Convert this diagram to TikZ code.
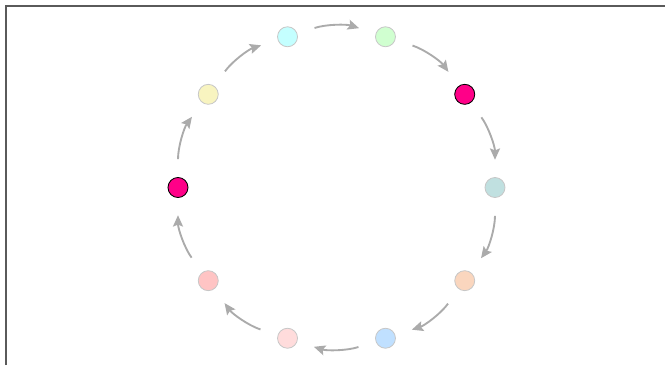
\documentclass[tikz,border=0pt]{standalone}
\usetikzlibrary{arrows.meta}

\definecolor{hot}{HTML}{FF0088}
\definecolor{butter}{HTML}{F8F4C0}
\definecolor{ice}{HTML}{C4FFFF}
\definecolor{mint}{HTML}{D0FFD0}
\definecolor{sea}{HTML}{C0E0E0}
\definecolor{peach}{HTML}{FAD6BE}
\definecolor{sky}{HTML}{C0E0FF}
\definecolor{blush}{HTML}{FFDCDC}
\definecolor{salmon}{HTML}{FFC4C4}
\definecolor{flowgray}{HTML}{ABABAB}
\definecolor{framegray}{HTML}{5A5A5A}

\begin{document}
\begin{tikzpicture}[
    x=0.75pt, y=0.75pt,
    ball/.style={circle, draw=black!22, line width=0.6pt, inner sep=0pt, minimum size=15pt},
    hotball/.style={ball, draw=black, fill=hot},
    flow/.style={draw=flowgray, line width=1.4pt, -{Stealth[length=8.5pt,width=7.5pt,inset=1.5pt]},
        shorten <=13.5pt, shorten >=13pt}
]

    % Page and frame
    \useasboundingbox (-336.5,-177.5) rectangle (328.5,187.5);
    \draw[framegray, line width=1.1pt] (-330.5,-177.5) -- (-330.5,181.5) -- (328.5,181.5);

    % Nodes around the ring, clockwise from the left
    \foreach \c [count=\i from 0] in {hot,butter,ice,mint,hot,sea,peach,sky,blush,salmon}
        \node[ball, fill=\c] (n\i) at (180-36*\i:158.5) {};
    \node[hotball] at (n0) {};
    \node[hotball] at (n4) {};

    % Arrows along the ring
    \foreach \i in {0,...,9} {
        \pgfmathtruncatemacro{\j}{mod(\i+1,10)}
        \draw[flow] (n\i) to[bend left=18] (n\j);
    }

\end{tikzpicture}
\end{document}
